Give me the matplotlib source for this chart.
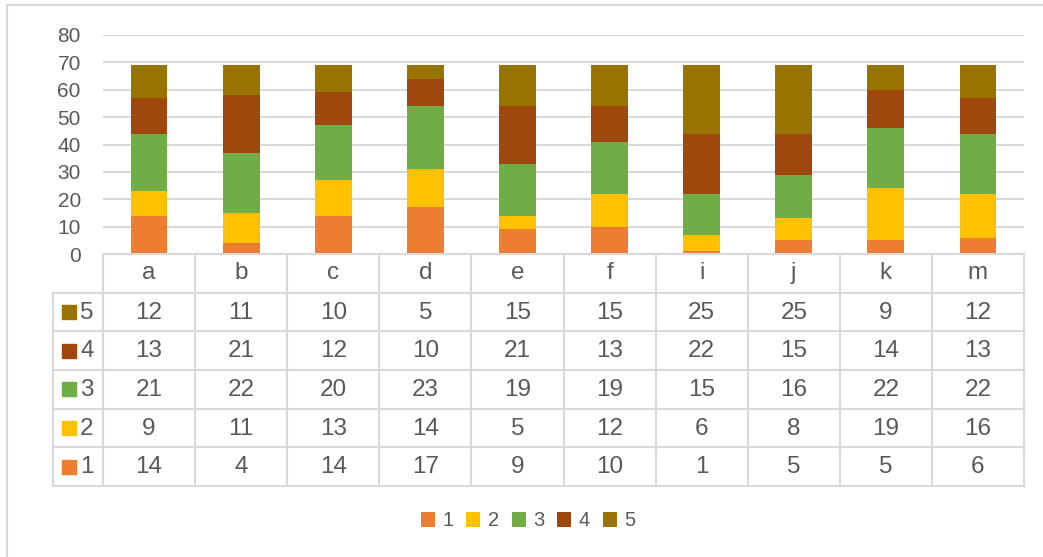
import matplotlib
matplotlib.use("Agg")
import matplotlib.pyplot as plt
from matplotlib.patches import Rectangle, Patch
from matplotlib.lines import Line2D
import numpy as np

categories = ["a", "b", "c", "d", "e", "f", "i", "j", "k", "m"]
series_names = ["1", "2", "3", "4", "5"]
s1 = [14, 4, 14, 17, 9, 10, 1, 5, 5, 6]
s2 = [9, 11, 13, 14, 5, 12, 6, 8, 19, 16]
s3 = [21, 22, 20, 23, 19, 19, 15, 16, 22, 22]
s4 = [13, 21, 12, 10, 21, 13, 22, 15, 14, 13]
s5 = [12, 11, 10, 5, 15, 15, 25, 25, 9, 12]
yticks = [0, 10, 20, 30, 40, 50, 60, 70, 80]

series = [s1, s2, s3, s4, s5]
colors = ["#ED7D31", "#FFC000", "#70AD47", "#9E480E", "#997300"]
grid_c = "#D9D9D9"
txt_c = "#595959"
plt.rcParams['font.family'] = ['Liberation Sans', 'DejaVu Sans']

W, H = 1043, 557
fig = plt.figure(figsize=(W / 100, H / 100), dpi=100)

def fx(px):
    return px / W

def fy(py):
    return 1 - py / H

# outer chart border (left and top visible)
fig.add_artist(Line2D([fx(7), fx(7)], [fy(5), 0], color=grid_c, lw=1.5))
fig.add_artist(Line2D([fx(7), 1], [fy(5), fy(5)], color=grid_c, lw=1.5))

xl, xr = 103, 1024
y0, y80 = 254, 35
ax = fig.add_axes([fx(xl), fy(y0), fx(xr) - fx(xl), fy(y80) - fy(y0)])
n = len(categories)
x = np.arange(n)
bottom = np.zeros(n)
for vals, c, name in zip(series, colors, series_names):
    ax.bar(x, vals, bottom=bottom, width=0.4, color=c, label=name, zorder=3)
    bottom += np.array(vals)
ax.set_xlim(-0.5, n - 0.5)
ax.set_ylim(0, 80)
ax.set_yticks(yticks)
ax.set_yticklabels([str(t) for t in yticks], fontsize=15, color=txt_c)
ax.tick_params(axis='y', length=0, pad=16)
ax.set_xticks([])
for s in ax.spines.values():
    s.set_visible(False)
ax.yaxis.grid(True, color=grid_c, lw=1.5, zorder=0)
ax.set_axisbelow(True)

# data table
tl = 53
tb = 486
unit = (xr - xl) / n
left_x = -0.5 - (xl - tl) / unit
tax = fig.add_axes([fx(tl), fy(tb), fx(xr) - fx(tl), fy(y0) - fy(tb)])
tax.set_xlim(left_x, n - 0.5)
nrows = 6
tax.set_ylim(nrows, 0)
tax.axis('off')
lc = dict(color=grid_c, lw=1.5, clip_on=False)
# horizontal lines
tax.plot([-0.5, n - 0.5], [0, 0], **lc)
for r in range(1, nrows + 1):
    tax.plot([left_x, n - 0.5], [r, r], **lc)
# vertical lines
tax.plot([left_x, left_x], [1, nrows], **lc)
for i in range(n + 1):
    tax.plot([i - 0.5, i - 0.5], [0, nrows], **lc)
# header
for i, cat in enumerate(categories):
    tax.text(i, 0.5, cat, ha='center', va='center', fontsize=17.5, color=txt_c)
# rows: top row is series 5
order = list(range(len(series)))[::-1]
sq_w = 14 / unit
row_px = (tb - y0) / nrows
sq_h = 14 / row_px
for r, si in enumerate(order):
    ry = r + 1.5
    for i, v in enumerate(series[si]):
        tax.text(i, ry + 0.02, str(v), ha='center', va='center', fontsize=17.5, color=txt_c)
    kx = left_x + 9 / unit
    tax.add_patch(Rectangle((kx, ry - sq_h / 2), sq_w, sq_h, color=colors[si], clip_on=False))
    tax.text(kx + sq_w + 4 / unit, ry + 0.02, series_names[si], ha='left', va='center',
             fontsize=17.5, color=txt_c)

# legend
handles = [Patch(facecolor=c, edgecolor='none') for c in colors]
fig.legend(handles, series_names, loc='center', bbox_to_anchor=(fx(528), fy(521)),
           ncol=5, frameon=False, fontsize=14.5, handlelength=0.7, handleheight=0.7,
           handletextpad=0.35, columnspacing=0.65, labelcolor=txt_c)

fig.savefig("out.png", dpi=100)
